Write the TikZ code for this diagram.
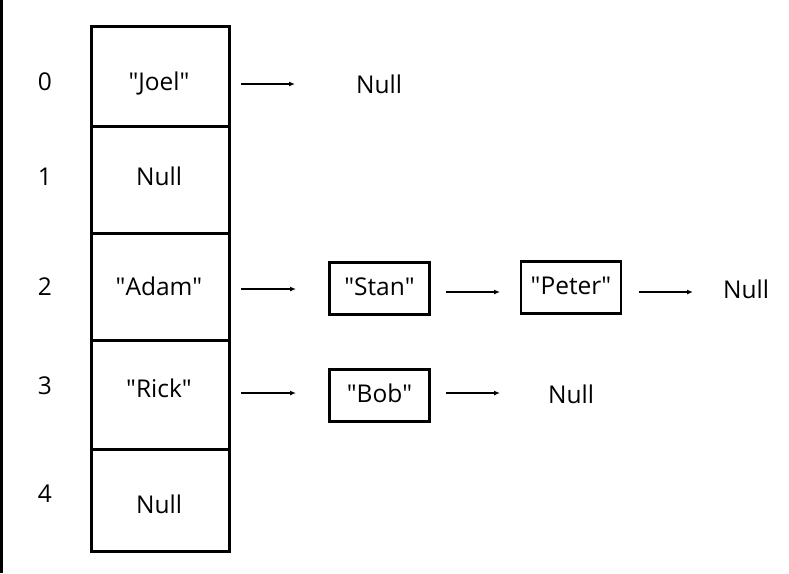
\documentclass[tikz,border=0pt]{standalone}
\usepackage{fontspec}
\setmainfont{Open Sans}
\usetikzlibrary{arrows.meta}
\newcommand{\sq}[1]{\textquotedbl#1\textquotedbl}
\begin{document}
\begin{tikzpicture}[x=1pt,y=-1pt,
  txt/.style={font=\fontsize{24.5}{29}\selectfont, inner sep=0pt, anchor=base},
  cell/.style={draw, line width=3pt, minimum width=138pt, inner sep=0pt, anchor=north west},
  listbox/.style={draw, line width=2.6pt, minimum width=100pt, minimum height=52pt, inner sep=0pt,
     font=\fontsize{24.5}{29}\selectfont, text height=20pt, text depth=7pt},
  ptr/.style={line width=1.7pt, -{Latex[length=6pt,width=5pt]}}]
\useasboundingbox (0,0) rectangle (789,573);
\fill[black] (0,0) rectangle (3,573);
% cells
\node[cell, minimum height=100pt] (c0) at (90,25) {};
\node[cell, minimum height=107pt] (c1) at (90,125) {};
\node[cell, minimum height=107pt] (c2) at (90,232) {};
\node[cell, minimum height=109pt] (c3) at (90,339) {};
\node[cell, minimum height=102pt] (c4) at (90,448) {};
% cell texts
\node[txt] (t0) at (159,90) {\sq{Joel}};
\node[txt] (t1) at (159,185) {Null};
\node[txt] (t2) at (159,295) {\sq{Adam}};
\node[txt] (t3) at (159,397) {\sq{Rick}};
\node[txt] (t4) at (159,513) {Null};
% indices
\node[txt] (i0) at (45,90) {0};
\node[txt] (i1) at (45,185) {1};
\node[txt] (i2) at (45,295) {2};
\node[txt] (i3) at (45,394) {3};
\node[txt] (i4) at (45,502) {4};
% list nodes
\node[listbox] (stan) at (379.5,288.5) {\sq{Stan}};
\node[listbox] (peter) at (571,287.5) {\sq{Peter}};
\node[listbox] (bob) at (379.5,395.5) {\sq{Bob}};
\node[txt] (n0) at (379,93) {Null};
\node[txt] (n2) at (746,298) {Null};
\node[txt] (n3) at (571,403) {Null};
% arrow endpoints
\coordinate (a0s) at (241,84);  \coordinate (a0e) at (295,84);
\coordinate (a2s) at (241,289); \coordinate (a2e) at (296,289);
\coordinate (a3s) at (241,393); \coordinate (a3e) at (296,393);
\coordinate (b2s) at (446,292); \coordinate (b2e) at (500,292);
\coordinate (b3s) at (446,393); \coordinate (b3e) at (500,393);
\coordinate (p2s) at (639,292); \coordinate (p2e) at (693,292);
\draw[ptr] (a0s) -- (a0e);
\draw[ptr] (a2s) -- (a2e);
\draw[ptr] (a3s) -- (a3e);
\draw[ptr] (b2s) -- (b2e);
\draw[ptr] (b3s) -- (b3e);
\draw[ptr] (p2s) -- (p2e);
\end{tikzpicture}
\end{document}
